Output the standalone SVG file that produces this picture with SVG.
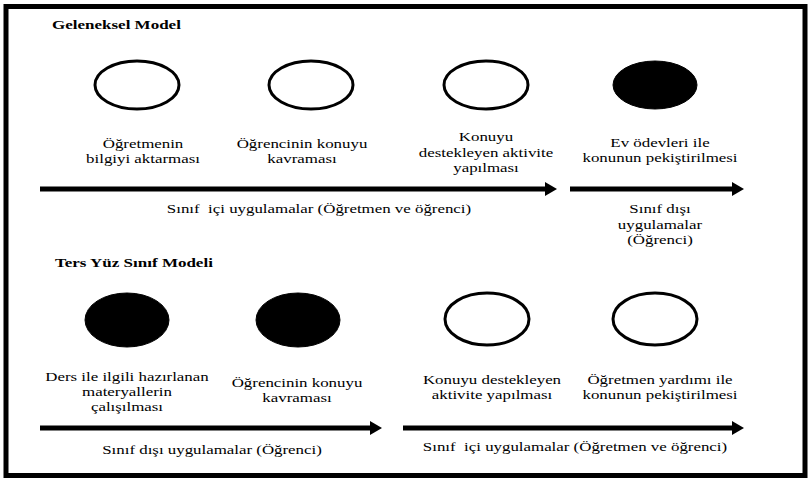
<svg xmlns="http://www.w3.org/2000/svg" width="809" height="478" viewBox="0 0 809 478">
<defs>
<style>
text{font-family:"Liberation Serif","Times New Roman",Times,serif}
.t{font-size:13.5px;text-anchor:middle;fill:#000;white-space:pre}
.h{font-size:13.5px;font-weight:bold;fill:#000}
.o{fill:#fff;stroke:#000;stroke-width:3}
.f{fill:#000;stroke:#000;stroke-width:1}
.a{stroke:#000;stroke-width:5;fill:none;marker-end:url(#ah)}
</style>
<marker id="ah" markerUnits="userSpaceOnUse" markerWidth="12" markerHeight="14" refX="1" refY="7" orient="auto">
<path d="M0,0 L12,7 L0,14 Z" fill="#000"/>
</marker>
</defs>
<rect x="0" y="0" width="809" height="478" fill="#fff"/>
<rect x="6" y="6.5" width="799" height="469" fill="none" stroke="#000" stroke-width="5"/>

<g id="title-geleneksel"><text class="h" transform="matrix(1.26 0 0 1 52 29)">Geleneksel Model</text></g>

<g id="g-node1">
<ellipse class="o" cx="137" cy="85" rx="42" ry="24"/>
<text class="t" transform="matrix(1.25 0 0 1 143 0)"><tspan x="0" y="148">Öğretmenin</tspan><tspan x="0" y="163">bilgiyi aktarması</tspan></text>
</g>
<g id="g-node2">
<ellipse class="o" cx="311" cy="85" rx="42" ry="24"/>
<text class="t" transform="matrix(1.25 0 0 1 302 0)"><tspan x="0" y="148">Öğrencinin konuyu</tspan><tspan x="0" y="163">kavraması</tspan></text>
</g>
<g id="g-node3">
<ellipse class="o" cx="486" cy="85" rx="42" ry="24"/>
<text class="t" transform="matrix(1.25 0 0 1 486 0)"><tspan x="0" y="141">Konuyu</tspan><tspan x="0" y="157">destekleyen aktivite</tspan><tspan x="0" y="172">yapılması</tspan></text>
</g>
<g id="g-node4">
<ellipse class="f" cx="655" cy="85" rx="42" ry="24"/>
<text class="t" transform="matrix(1.25 0 0 1 660 0)"><tspan x="0" y="147">Ev ödevleri ile</tspan><tspan x="0" y="162">konunun pekiştirilmesi</tspan></text>
</g>

<g id="g-label-ici"><text class="t" transform="matrix(1.25 0 0 1 319 0)"><tspan x="0" y="213">Sınıf  içi uygulamalar (Öğretmen ve öğrenci)</tspan></text></g>
<g id="g-label-disi"><text class="t" transform="matrix(1.25 0 0 1 660 0)"><tspan x="0" y="213">Sınıf dışı</tspan><tspan x="0" y="229">uygulamalar</tspan><tspan x="0" y="244">(Öğrenci)</tspan></text></g>

<g id="title-ters"><text class="h" transform="matrix(1.26 0 0 1 55 267)">Ters Yüz Sınıf Modeli</text></g>

<g id="t-node1">
<ellipse class="f" cx="127" cy="320" rx="42" ry="27"/>
<text class="t" transform="matrix(1.25 0 0 1 127 0)"><tspan x="0" y="381">Ders ile ilgili hazırlanan</tspan><tspan x="0" y="396">materyallerin</tspan><tspan x="0" y="411">çalışılması</tspan></text>
</g>
<g id="t-node2">
<ellipse class="f" cx="298" cy="320" rx="42" ry="27"/>
<text class="t" transform="matrix(1.25 0 0 1 297 0)"><tspan x="0" y="387">Öğrencinin konuyu</tspan><tspan x="0" y="402">kavraması</tspan></text>
</g>
<g id="t-node3">
<ellipse class="o" cx="487" cy="319" rx="42" ry="26"/>
<text class="t" transform="matrix(1.25 0 0 1 492 0)"><tspan x="0" y="384">Konuyu destekleyen</tspan><tspan x="0" y="399">aktivite yapılması</tspan></text>
</g>
<g id="t-node4">
<ellipse class="o" cx="655" cy="319" rx="42" ry="26"/>
<text class="t" transform="matrix(1.25 0 0 1 660 0)"><tspan x="0" y="384">Öğretmen yardımı ile</tspan><tspan x="0" y="399">konunun pekiştirilmesi</tspan></text>
</g>

<g id="t-label-disi"><text class="t" transform="matrix(1.25 0 0 1 212 0)"><tspan x="0" y="454">Sınıf dışı uygulamalar (Öğrenci)</tspan></text></g>
<g id="t-label-ici"><text class="t" transform="matrix(1.25 0 0 1 575 0)"><tspan x="0" y="451">Sınıf  içi uygulamalar (Öğretmen ve öğrenci)</tspan></text></g>

<g id="connectors">
<path class="a" d="M40,189 H546"/>
<path class="a" d="M570,189 H733"/>
<path class="a" d="M40,428 H371"/>
<path class="a" d="M403,428 H733"/>
</g>
</svg>
